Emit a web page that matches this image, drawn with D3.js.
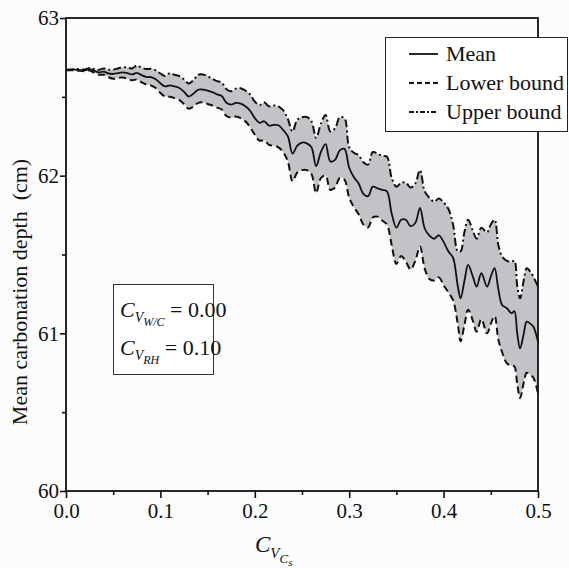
<!DOCTYPE html>
<html>
<head>
<meta charset="utf-8">
<script src="https://cdn.jsdelivr.net/npm/d3@7"></script>
<style>
  body { margin: 0; background: #fcfcfc; }
  text { font-family: "Liberation Serif", "Times New Roman", serif; fill: #111; }
</style>
</head>
<body>
<div id="chart"></div>
<script>
const cvCs = [
  0.000, 0.010, 0.020, 0.025, 0.030, 0.035, 0.040, 0.045, 0.050, 0.055,
  0.060, 0.065, 0.070, 0.075, 0.080, 0.085, 0.090, 0.095, 0.100, 0.105,
  0.110, 0.115, 0.120, 0.125, 0.130, 0.135, 0.140, 0.145, 0.150, 0.155,
  0.160, 0.165, 0.170, 0.175, 0.180, 0.185, 0.190, 0.195, 0.200, 0.205,
  0.210, 0.215, 0.220, 0.225, 0.230, 0.235, 0.240, 0.245, 0.250, 0.255,
  0.260, 0.265, 0.270, 0.275, 0.280, 0.285, 0.290, 0.295, 0.300, 0.305,
  0.310, 0.315, 0.320, 0.325, 0.330, 0.335, 0.340, 0.345, 0.350, 0.355,
  0.360, 0.365, 0.370, 0.375, 0.380, 0.385, 0.390, 0.395, 0.400, 0.405,
  0.410, 0.415, 0.418, 0.422, 0.426, 0.431, 0.435, 0.440, 0.446, 0.450,
  0.454, 0.458, 0.462, 0.467, 0.472, 0.475, 0.478, 0.481, 0.485, 0.488,
  0.492, 0.495, 0.500
];

const meanDepth = [
  62.670, 62.672, 62.668, 62.675, 62.664, 62.655, 62.660, 62.648, 62.645, 62.650,
  62.655, 62.650, 62.642, 62.652, 62.638, 62.626, 62.625, 62.612, 62.586, 62.566,
  62.573, 62.566, 62.556, 62.532, 62.502, 62.520, 62.545, 62.546, 62.540, 62.530,
  62.516, 62.505, 62.462, 62.450, 62.462, 62.457, 62.440, 62.412, 62.365, 62.335,
  62.345, 62.318, 62.322, 62.320, 62.290, 62.250, 62.140, 62.190, 62.210, 62.205,
  62.180, 62.060, 62.150, 62.200, 62.090, 62.100, 62.160, 62.170, 62.050, 61.990,
  61.950, 61.885, 61.870, 61.930, 61.920, 61.910, 61.900, 61.760, 61.670, 61.720,
  61.720, 61.680, 61.700, 61.795, 61.665, 61.620, 61.600, 61.622, 61.580, 61.520,
  61.480, 61.300, 61.222, 61.330, 61.434, 61.360, 61.296, 61.381, 61.296, 61.360,
  61.413, 61.280, 61.180, 61.159, 61.127, 61.140, 61.000, 60.905, 61.000, 61.074,
  61.060, 61.043, 60.947
];

const upperBound = [
  62.672, 62.676, 62.674, 62.683, 62.676, 62.672, 62.680, 62.672, 62.672, 62.680,
  62.688, 62.686, 62.680, 62.698, 62.685, 62.676, 62.678, 62.668, 62.648, 62.632,
  62.650, 62.640, 62.632, 62.610, 62.585, 62.605, 62.640, 62.642, 62.630, 62.615,
  62.600, 62.590, 62.548, 62.535, 62.552, 62.555, 62.540, 62.515, 62.470, 62.448,
  62.465, 62.440, 62.445, 62.440, 62.415, 62.360, 62.280, 62.355, 62.370, 62.372,
  62.345, 62.240, 62.330, 62.385, 62.280, 62.300, 62.370, 62.365, 62.180, 62.145,
  62.130, 62.085, 62.070, 62.150, 62.140, 62.125, 62.120, 61.985, 61.930, 61.955,
  61.955, 61.925, 61.950, 62.036, 61.900, 61.860, 61.835, 61.855, 61.830, 61.790,
  61.690, 61.520, 61.520, 61.640, 61.720, 61.650, 61.600, 61.670, 61.640, 61.690,
  61.720, 61.560, 61.487, 61.460, 61.455, 61.460, 61.300, 61.222, 61.340, 61.413,
  61.390, 61.360, 61.296
];

const lowerBound = [
  62.668, 62.668, 62.662, 62.667, 62.652, 62.640, 62.640, 62.625, 62.615, 62.620,
  62.622, 62.615, 62.605, 62.610, 62.592, 62.578, 62.572, 62.556, 62.525, 62.502,
  62.500, 62.492, 62.480, 62.455, 62.425, 62.438, 62.462, 62.465, 62.455, 62.445,
  62.432, 62.420, 62.378, 62.368, 62.375, 62.365, 62.345, 62.308, 62.260, 62.222,
  62.225, 62.196, 62.190, 62.180, 62.150, 62.090, 61.965, 62.020, 62.035, 62.035,
  62.010, 61.890, 61.985, 62.000, 61.910, 61.925, 61.985, 61.975, 61.860, 61.800,
  61.755, 61.690, 61.672, 61.735, 61.740, 61.715, 61.690, 61.560, 61.440, 61.490,
  61.455, 61.405, 61.460, 61.550, 61.410, 61.345, 61.335, 61.355, 61.305, 61.260,
  61.210, 61.060, 60.950, 61.050, 61.150, 61.080, 61.010, 61.090, 61.000, 61.060,
  61.110, 60.960, 60.880, 60.810, 60.795, 60.790, 60.680, 60.589, 60.690, 60.750,
  60.735, 60.720, 60.620
];

const xTicks = [0, 0.1, 0.2, 0.3, 0.4, 0.5];
const xMinor = [0.05, 0.15, 0.25, 0.35, 0.45];
const yTicks = [60, 61, 62, 63];
const yMinor = [60.5, 61.5, 62.5];

const W = 569, H = 568;
const plotL = 66, plotR = 538, plotT = 18, plotB = 491;
const fs = 21;

const rows = cvCs.map((x, i) => ({ x, mean: meanDepth[i], lo: lowerBound[i], hi: upperBound[i] }));

const svg = d3.select('#chart').append('svg')
  .attr('width', W).attr('height', H);

svg.append('rect').attr('width', W).attr('height', H).attr('fill', '#fcfcfc');

const x = d3.scaleLinear().domain([0, 0.5]).range([plotL, plotR]);
const y = d3.scaleLinear().domain([60, 63]).range([plotB, plotT]);

const curve = d3.curveCatmullRom.alpha(0.5);

// Band between bounds
svg.append('path')
  .datum(rows)
  .attr('fill', '#c4c2c7')
  .attr('d', d3.area().x(d => x(d.x)).y0(d => y(d.lo)).y1(d => y(d.hi)).curve(curve));

const line = key => d3.line().x(d => x(d.x)).y(d => y(d[key])).curve(curve);

svg.append('path').datum(rows)
  .attr('fill', 'none').attr('stroke', '#111').attr('stroke-width', 2)
  .attr('stroke-dasharray', '7,4')
  .attr('d', line('lo'));

svg.append('path').datum(rows)
  .attr('fill', 'none').attr('stroke', '#111').attr('stroke-width', 2)
  .attr('stroke-dasharray', '8,3,2,3')
  .attr('d', line('hi'));

svg.append('path').datum(rows)
  .attr('fill', 'none').attr('stroke', '#111').attr('stroke-width', 1.8)
  .attr('d', line('mean'));

// Axes
const xAxis = svg.append('g').attr('transform', `translate(0,${plotB})`)
  .call(d3.axisBottom(x).tickValues(xTicks).tickFormat(d3.format('.1f')).tickSize(7).tickSizeOuter(0).tickPadding(5));
const xMin = svg.append('g').attr('transform', `translate(0,${plotB})`)
  .call(d3.axisBottom(x).tickValues(xMinor).tickFormat('').tickSize(4).tickSizeOuter(0));
const yAxis = svg.append('g').attr('transform', `translate(${plotL},0)`)
  .call(d3.axisLeft(y).tickValues(yTicks).tickFormat(d3.format('d')).tickSize(6).tickSizeOuter(0).tickPadding(1));
const yMin = svg.append('g').attr('transform', `translate(${plotL},0)`)
  .call(d3.axisLeft(y).tickValues(yMinor).tickFormat('').tickSize(4).tickSizeOuter(0));

[xAxis, xMin, yAxis, yMin].forEach(g => {
  g.select('.domain').remove();
  g.selectAll('line').attr('stroke', '#111').attr('stroke-width', 1.6);
  g.selectAll('text').style('font-size', fs + 'px').attr('fill', '#111')
    .style('font-family', '"Liberation Serif", serif');
});

// Frame
svg.append('rect')
  .attr('x', plotL).attr('y', plotT)
  .attr('width', plotR - plotL).attr('height', plotB - plotT)
  .attr('fill', 'none').attr('stroke', '#111').attr('stroke-width', 1.8);

// Axis titles
svg.append('text')
  .attr('transform', 'translate(27,292) rotate(-90)')
  .attr('text-anchor', 'middle')
  .style('font-size', '22px')
  .attr('xml:space', 'preserve')
  .text('Mean carbonation depth  (cm)');

const xt = svg.append('text').attr('x', 255).attr('y', 552).style('font-size', '23px');
xt.append('tspan').style('font-style', 'italic').text('C');
xt.append('tspan').style('font-style', 'italic').style('font-size', '15px').attr('dy', 6).text('V');
xt.append('tspan').style('font-style', 'italic').style('font-size', '13px').attr('dy', 5).text('C');
xt.append('tspan').style('font-style', 'italic').style('font-size', '11px').attr('dy', 3).text('s');

// Legend
const legend = svg.append('g');
legend.append('rect')
  .attr('x', 385.5).attr('y', 37.5).attr('width', 182).attr('height', 94)
  .attr('fill', '#fff').attr('stroke', '#222').attr('stroke-width', 1);
const legendItems = [
  { label: 'Mean', dash: null },
  { label: 'Lower bound', dash: '5,3' },
  { label: 'Upper bound', dash: '5,2,2,2' }
];
legendItems.forEach((d, i) => {
  const by = 61 + i * 29;
  legend.append('line')
    .attr('x1', 409).attr('x2', 438).attr('y1', by - 7).attr('y2', by - 7)
    .attr('stroke', '#111').attr('stroke-width', 1.8)
    .attr('stroke-dasharray', d.dash);
  legend.append('text').attr('x', 446).attr('y', by)
    .style('font-size', '22px').text(d.label);
});

// Annotation box
const note = svg.append('g');
note.append('rect')
  .attr('x', 113.5).attr('y', 284.5).attr('width', 100).attr('height', 90)
  .attr('fill', '#fff').attr('stroke', '#333').attr('stroke-width', 1);
const noteLines = [
  { sub: 'W/C', value: '0.00', by: 317 },
  { sub: 'RH', value: '0.10', by: 355 }
];
noteLines.forEach(d => {
  const t = note.append('text').attr('x', 120).attr('y', d.by).style('font-size', '22px');
  t.append('tspan').style('font-style', 'italic').text('C');
  t.append('tspan').style('font-style', 'italic').style('font-size', '14px').attr('dy', 5).text('V');
  t.append('tspan').style('font-style', 'italic').style('font-size', '12px').attr('dy', 4).text(d.sub);
  t.append('tspan').attr('dy', -9).attr('xml:space', 'preserve').text(' = ' + d.value);
});
</script>
</body>
</html>
